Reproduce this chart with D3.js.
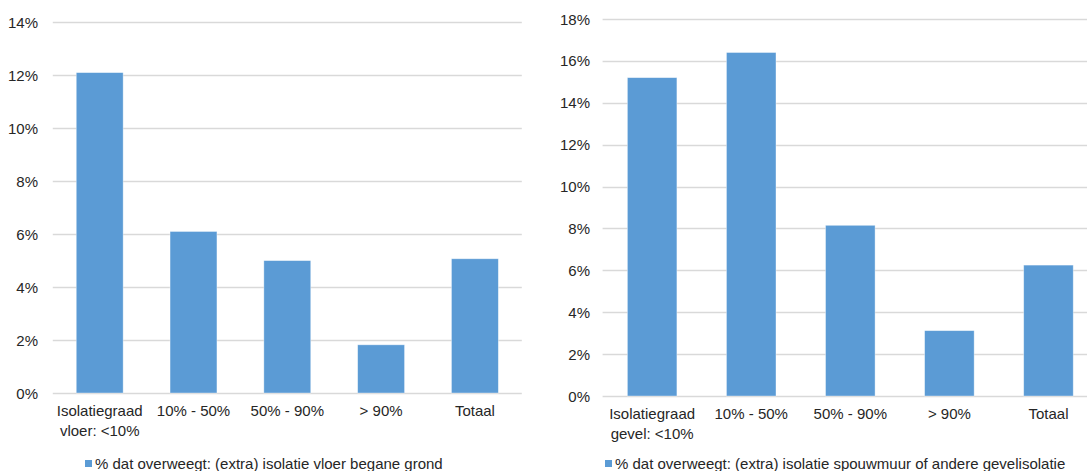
<!DOCTYPE html>
<html>
<head>
<meta charset="utf-8">
<script src="https://cdn.jsdelivr.net/npm/d3@7"></script>
<style>
  html, body { margin: 0; padding: 0; background: #fff; }
  svg { display: block; }
  text { font-family: "Liberation Sans", Arial, sans-serif; fill: #262626; }
</style>
</head>
<body>
<svg id="chart" width="1087" height="471"></svg>
<script>
const categoriesLeft = [["Isolatiegraad", "vloer: <10%"], ["10% - 50%"], ["50% - 90%"], ["> 90%"], ["Totaal"]];
const categoriesRight = [["Isolatiegraad", "gevel: <10%"], ["10% - 50%"], ["50% - 90%"], ["> 90%"], ["Totaal"]];
const valuesLeft = [12.1, 6.1, 5.0, 1.82, 5.07];
const valuesRight = [15.2, 16.4, 8.15, 3.12, 6.25];
const ticksLeft = [0, 2, 4, 6, 8, 10, 12, 14];
const ticksRight = [0, 2, 4, 6, 8, 10, 12, 14, 16, 18];
const legendLeft = "% dat overweegt: (extra) isolatie vloer begane grond";
const legendRight = "% dat overweegt: (extra) isolatie spouwmuur of andere gevelisolatie";

const svg = d3.select("#chart");
const BAR = "#5B9BD5";
const GRID = "#D9D9D9";
const FS = "15px";

function drawChart(opt) {
  const g = svg.append("g");
  const x = d3.scaleBand().domain(d3.range(opt.cats.length))
    .range([opt.x0, opt.x1]).paddingInner(0.5).paddingOuter(0.25);
  const y = d3.scaleLinear().domain([0, opt.max]).range([opt.y0, opt.y1]);

  // grid lines
  g.selectAll("line.grid").data(opt.ticks).enter().append("line")
    .attr("x1", opt.x0).attr("x2", Math.min(opt.x1, 1087))
    .attr("y1", d => Math.round(y(d)) + 0.5).attr("y2", d => Math.round(y(d)) + 0.5)
    .attr("stroke", GRID).attr("stroke-width", 1.3);

  // tick labels
  g.selectAll("text.tick").data(opt.ticks).enter().append("text")
    .attr("x", opt.tickX).attr("y", d => y(d))
    .attr("text-anchor", "end").attr("dominant-baseline", "central")
    .style("font-size", FS)
    .text(d => d + "%");

  // bars
  g.selectAll("rect.bar").data(opt.vals).enter().append("rect")
    .attr("x", (d, i) => x(i)).attr("width", x.bandwidth())
    .attr("y", d => y(d)).attr("height", d => y(0) - y(d))
    .attr("fill", BAR).attr("stroke", "#ffffff").attr("stroke-opacity", 0.5).attr("stroke-width", 0.75);

  // category labels
  opt.cats.forEach((lines, i) => {
    const t = g.append("text").attr("text-anchor", "middle").style("font-size", FS)
      .attr("x", x(i) + x.bandwidth() / 2).attr("y", y(0) + 23);
    lines.forEach((ln, j) => {
      t.append("tspan").attr("x", x(i) + x.bandwidth() / 2)
        .attr("dy", j === 0 ? 0 : 19.5).text(ln);
    });
  });

  // legend
  g.append("rect").attr("x", opt.legX).attr("y", 460).attr("width", 7).attr("height", 7).attr("fill", BAR);
  g.append("text").attr("x", opt.legX + 10).attr("y", 468.5).style("font-size", FS).text(opt.legend);
}

drawChart({ cats: categoriesLeft, vals: valuesLeft, ticks: ticksLeft, max: 14,
  x0: 52.8, x1: 521.8, y0: 393, y1: 22.3, tickX: 38, legX: 85, legend: legendLeft });
drawChart({ cats: categoriesRight, vals: valuesRight, ticks: ticksRight, max: 18,
  x0: 602.6, x1: 1098, y0: 396, y1: 19, tickX: 590, legX: 605, legend: legendRight });
</script>
</body>
</html>
